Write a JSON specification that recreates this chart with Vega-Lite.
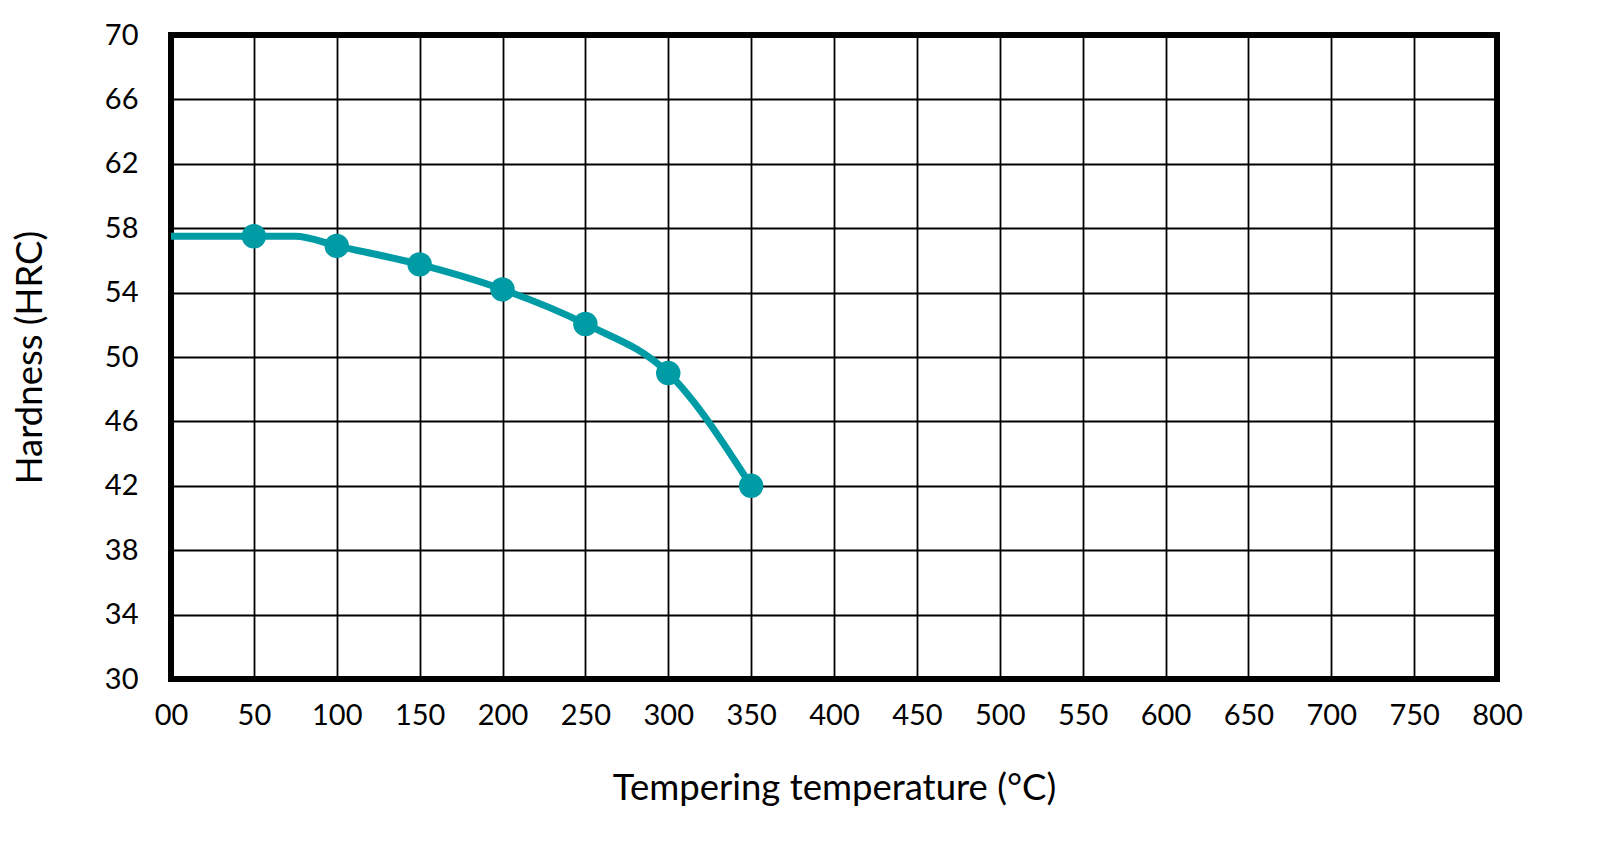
{
  "$schema": "https://vega.github.io/schema/vega-lite/v6.json",
  "autosize": {"type": "none"},
  "padding": {"left": 171, "top": 35, "right": 124, "bottom": 183},
  "width": 1326,
  "height": 644,
  "background": "white",
  "config": {
    "font": "Lato",
    "view": {"stroke": "black", "strokeWidth": 6},
    "axis": {
      "grid": true,
      "gridColor": "black",
      "gridWidth": 1.8,
      "gridOpacity": 1,
      "domain": false,
      "ticks": false,
      "labelFont": "Lato",
      "labelFontSize": 29,
      "labelColor": "black",
      "titleFont": "Lato",
      "titleFontSize": 36.5,
      "titleFontWeight": "normal",
      "titleColor": "black"
    }
  },
  "datasets": {
    "curve": [
      {"temp": 0, "hardness": 57.5},
      {"temp": 50, "hardness": 57.5},
      {"temp": 75, "hardness": 57.5},
      {"temp": 100, "hardness": 56.9},
      {"temp": 150, "hardness": 55.75},
      {"temp": 200, "hardness": 54.2},
      {"temp": 250, "hardness": 52.05},
      {"temp": 300, "hardness": 49.0},
      {"temp": 350, "hardness": 42.0}
    ],
    "measured": [
      {"temp": 50, "hardness": 57.5},
      {"temp": 100, "hardness": 56.9},
      {"temp": 150, "hardness": 55.75},
      {"temp": 200, "hardness": 54.2},
      {"temp": 250, "hardness": 52.05},
      {"temp": 300, "hardness": 49.0},
      {"temp": 350, "hardness": 42.0}
    ]
  },
  "encoding": {
    "x": {
      "field": "temp",
      "type": "quantitative",
      "scale": {"domain": [0, 800], "nice": false, "zero": false},
      "axis": {
        "values": [0, 50, 100, 150, 200, 250, 300, 350, 400, 450, 500, 550, 600, 650, 700, 750, 800],
        "labelExpr": "datum.value == 0 ? '00' : datum.label",
        "labelPadding": 22,
        "labelFlush": false,
        "labelOverlap": false,
        "title": "Tempering temperature (°C)",
        "titlePadding": 40
      }
    },
    "y": {
      "field": "hardness",
      "type": "quantitative",
      "scale": {"domain": [30, 70], "nice": false, "zero": false},
      "axis": {
        "values": [30, 34, 38, 42, 46, 50, 54, 58, 62, 66, 70],
        "labelPadding": 33,
        "labelFlush": false,
        "labelOverlap": false,
        "title": "Hardness (HRC)",
        "titlePadding": 55
      }
    }
  },
  "layer": [
    {
      "data": {"name": "curve"},
      "mark": {"type": "line", "color": "#009CA6", "strokeWidth": 7, "interpolate": "monotone"}
    },
    {
      "data": {"name": "measured"},
      "mark": {"type": "circle", "color": "#009CA6", "opacity": 1, "size": 600}
    }
  ]
}
